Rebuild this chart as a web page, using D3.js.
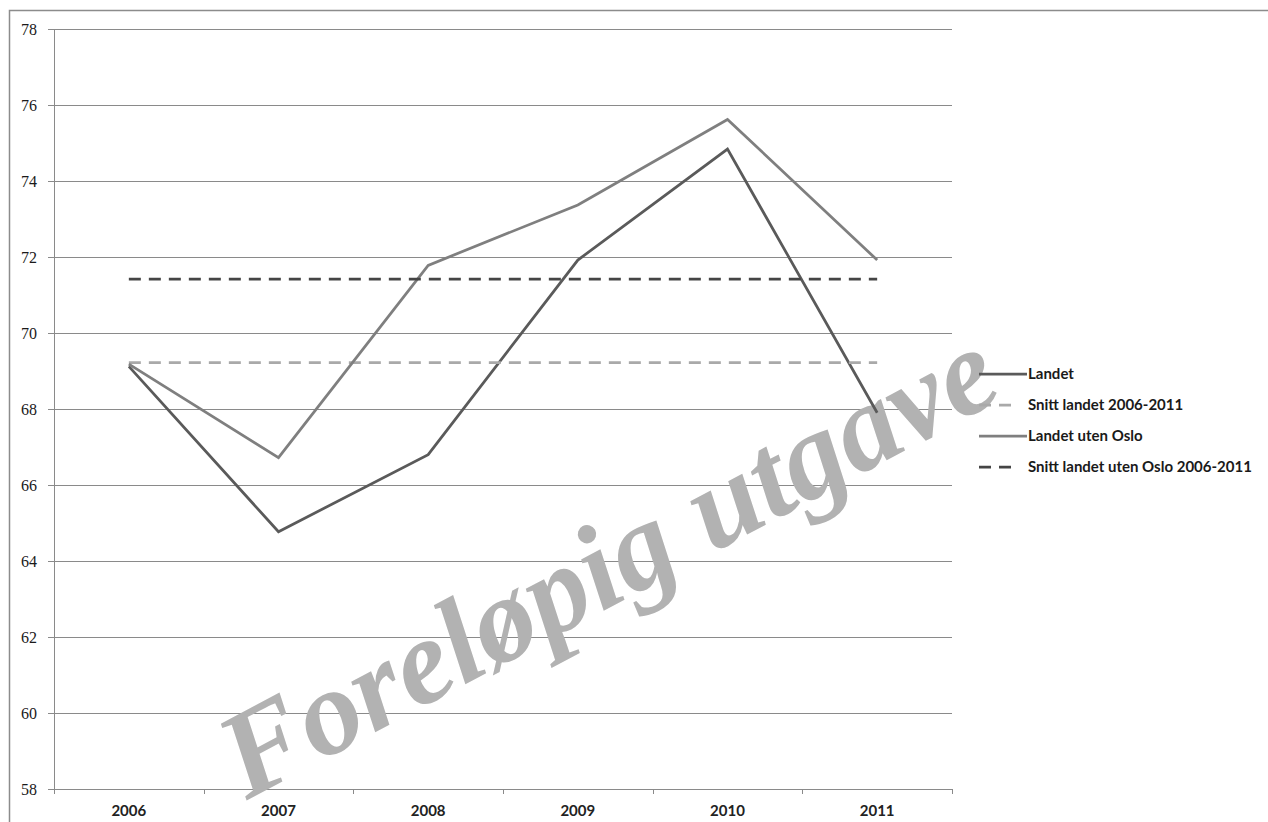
<!DOCTYPE html>
<html>
<head>
<meta charset="utf-8">
<script src="https://cdn.jsdelivr.net/npm/d3@7"></script>
<style>
  body { margin: 0; background: #fff; }
</style>
</head>
<body>
<script>
var years = ["2006", "2007", "2008", "2009", "2010", "2011"];
var landet = [69.12, 64.77, 66.8, 71.92, 74.84, 67.9];
var landetUtenOslo = [69.18, 66.72, 71.78, 73.37, 75.62, 71.92];
var snittLandet = 69.22;
var snittUtenOslo = 71.42;
var yTicks = [58, 60, 62, 64, 66, 68, 70, 72, 74, 76, 78];

var series = [
    { name: "Landet", values: landet, color: "#5a5a5a", dash: null },
    { name: "Snitt landet 2006-2011", values: years.map(function() { return snittLandet; }), color: "#a9a9a9", dash: "12,8" },
    { name: "Landet uten Oslo", values: landetUtenOslo, color: "#7f7f7f", dash: null },
    { name: "Snitt landet uten Oslo 2006-2011", values: years.map(function() { return snittUtenOslo; }), color: "#454545", dash: "12,8" }
];

var W = 1268, H = 822;
var plotLeft = 54, plotRight = 952, plotTop = 29, plotBottom = 789;

var svg = d3.select("body")
    .append("svg")
    .attr("width", W)
    .attr("height", H);

// outer frame
svg.append("rect")
    .attr("x", 9.5)
    .attr("y", 10.5)
    .attr("width", W + 20)
    .attr("height", H + 20)
    .attr("fill", "none")
    .attr("stroke", "#8c8c8c")
    .attr("stroke-width", 1.5);

var x = d3.scaleBand()
    .domain(years)
    .range([plotLeft, plotRight])
    .padding(0);

var y = d3.scaleLinear()
    .domain([58, 78])
    .range([plotBottom, plotTop]);

function cx(d) { return x(d) + x.bandwidth() / 2; }

// gridlines
svg.append("g")
    .selectAll("line")
    .data(yTicks)
    .enter()
    .append("line")
    .attr("x1", plotLeft - 6)
    .attr("x2", plotRight)
    .attr("y1", function(d) { return Math.round(y(d)) + 0.5; })
    .attr("y2", function(d) { return Math.round(y(d)) + 0.5; })
    .attr("stroke", "#8a8a8a")
    .attr("stroke-width", 1);

// y axis line
svg.append("line")
    .attr("x1", plotLeft + 0.5)
    .attr("x2", plotLeft + 0.5)
    .attr("y1", plotTop)
    .attr("y2", plotBottom)
    .attr("stroke", "#8a8a8a");

// y labels
svg.append("g")
    .selectAll("text")
    .data(yTicks)
    .enter()
    .append("text")
    .attr("x", 37)
    .attr("y", function(d) { return y(d); })
    .attr("dy", "0.35em")
    .attr("text-anchor", "end")
    .style("font-family", "Liberation Serif")
    .style("font-size", "16px")
    .style("fill", "#1a1a1a")
    .text(function(d) { return d; });

// x axis ticks at category boundaries
var bounds = years.map(function(d) { return x(d); }).concat([plotRight]);
svg.append("g")
    .selectAll("line")
    .data(bounds)
    .enter()
    .append("line")
    .attr("x1", function(d) { return Math.round(d) + 0.5; })
    .attr("x2", function(d) { return Math.round(d) + 0.5; })
    .attr("y1", plotBottom)
    .attr("y2", plotBottom + 5)
    .attr("stroke", "#8a8a8a");

// x labels
svg.append("g")
    .selectAll("text")
    .data(years)
    .enter()
    .append("text")
    .attr("x", cx)
    .attr("y", 816)
    .attr("text-anchor", "middle")
    .style("font-family", "Lato")
    .style("font-weight", "bold")
    .style("font-size", "15px")
    .style("fill", "#222")
    .text(function(d) { return d; });

// watermark
svg.append("text")
    .attr("transform", "translate(607,562) rotate(-28)")
    .attr("text-anchor", "middle")
    .attr("dominant-baseline", "central")
    .attr("textLength", 860)
    .attr("lengthAdjust", "spacingAndGlyphs")
    .style("font-family", "Liberation Serif")
    .style("font-style", "italic")
    .style("font-weight", "bold")
    .style("font-size", "122px")
    .style("fill", "#b2b2b2")
    .text("Foreløpig utgave");

// lines
var line = d3.line()
    .x(function(d, i) { return cx(years[i]); })
    .y(function(d) { return y(d); });

svg.append("g")
    .selectAll("path")
    .data(series)
    .enter()
    .append("path")
    .attr("d", function(s) { return line(s.values); })
    .attr("fill", "none")
    .attr("stroke", function(s) { return s.color; })
    .attr("stroke-width", 2.75)
    .attr("stroke-dasharray", function(s) { return s.dash; });

// legend
var legend = svg.append("g")
    .selectAll("g")
    .data(series)
    .enter()
    .append("g")
    .attr("transform", function(d, i) { return "translate(979," + (374 + i * 31) + ")"; });

legend.append("line")
    .attr("x1", 0)
    .attr("x2", function(s) { return s.dash ? 34 : 48; })
    .attr("y1", 0)
    .attr("y2", 0)
    .attr("stroke", function(s) { return s.color; })
    .attr("stroke-width", 2.75)
    .attr("stroke-dasharray", function(s) { return s.dash; });

legend.append("text")
    .attr("x", 49)
    .attr("y", 0)
    .attr("dy", "0.35em")
    .style("font-family", "Lato")
    .style("font-weight", "bold")
    .style("font-size", "15px")
    .style("fill", "#1a1a1a")
    .text(function(s) { return s.name; });
</script>
</body>
</html>
